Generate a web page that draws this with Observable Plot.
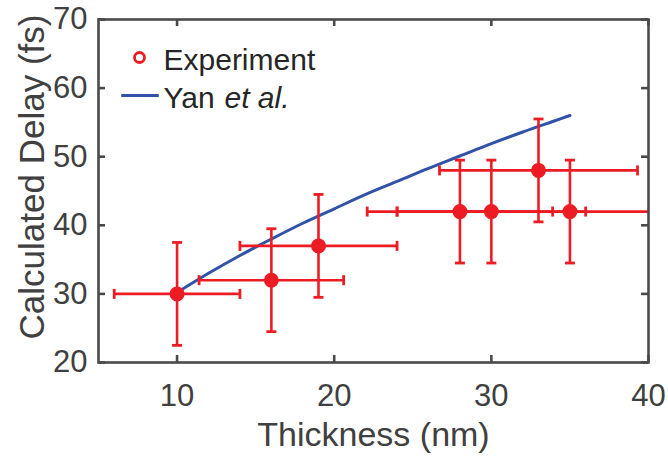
<!DOCTYPE html>
<html>
<head>
<meta charset="utf-8">
<script src="https://cdn.jsdelivr.net/npm/d3@7"></script>
<script src="https://cdn.jsdelivr.net/npm/@observablehq/plot@0.6"></script>
<style>
  html, body { margin: 0; padding: 0; background: #fff; }
  #chart svg { display: block; }
</style>
</head>
<body>
<div id="chart"></div>
<script>
// Measured delay versus film thickness, with error bars in both directions
const thickness    = [10, 16, 19, 28, 30, 33, 35];
const delay        = [30, 32, 37, 42, 42, 48, 42];
const thicknessErr = [4, 4.6, 5, 5.9, 6, 6.3, 11];
const delayErr     = [7.5, 7.5, 7.5, 7.5, 7.5, 7.5, 7.5];

// Model curve (Yan et al.)
const yanThickness = [10, 12, 14, 16, 18, 20, 22, 24, 26, 28, 30, 32, 34, 35];
const yanDelay     = [30.2, 33.0, 35.6, 38.0, 40.3, 42.4, 44.5, 46.4, 48.3, 50.1, 51.9, 53.6, 55.2, 56.0];

// Axis ticks
const xTicks = [10, 20, 30, 40];
const yTicks = [20, 30, 40, 50, 60, 70];

const points = thickness.map((t, i) => ({t, d: delay[i], et: thicknessErr[i], ed: delayErr[i]}));
const yan = yanThickness.map((t, i) => ({t, d: yanDelay[i]}));
const vCaps = points.flatMap(p => [{t: p.t, d: p.d - p.ed}, {t: p.t, d: p.d + p.ed}]);
const hCaps = points.flatMap(p => [{t: p.t - p.et, d: p.d}, {t: p.t + p.et, d: p.d}]);

const red = "#ed1c24";
const blue = "#3152a6";
const axisColor = "#4a4a4a";
const textColor = "#404040";
const W = 668, H = 457, mL = 98, mR = 20, mT = 19, mB = 95;
const plotW = W - mL - mR, plotH = H - mT - mB;
const tickLen = 7;

// short path symbols for error-bar caps and the legend line
const capH = {draw(ctx) { ctx.moveTo(-5, 0); ctx.lineTo(5, 0); }};
const capV = {draw(ctx) { ctx.moveTo(0, -5); ctx.lineTo(0, 5); }};
const legendLine = {draw(ctx) { ctx.moveTo(-18.8, 0); ctx.lineTo(18.8, 0); }};

const chart = Plot.plot({
  width: W, height: H,
  marginLeft: mL, marginRight: mR, marginTop: mT, marginBottom: mB,
  style: {fontFamily: "'Liberation Sans', Arial, Helvetica, sans-serif", background: "#fff"},
  x: {domain: [5, 40]},
  y: {domain: [20, 70]},
  marks: [
    // model curve
    Plot.line(yan, {x: "t", y: "d", stroke: blue, strokeWidth: 3, curve: "catmull-rom"}),
    // error bars
    Plot.link(points, {x1: d => d.t - d.et, x2: d => d.t + d.et, y1: "d", y2: "d", stroke: red, strokeWidth: 2.6, clip: true}),
    Plot.link(points, {x1: "t", x2: "t", y1: d => d.d - d.ed, y2: d => d.d + d.ed, stroke: red, strokeWidth: 2.6}),
    Plot.dot(vCaps, {x: "t", y: "d", symbol: capH, r: 5, fill: "none", stroke: red, strokeWidth: 2.8}),
    Plot.dot(hCaps, {x: "t", y: "d", symbol: capV, r: 5, fill: "none", stroke: red, strokeWidth: 2.8, clip: true}),
    // measured points
    Plot.dot(points, {x: "t", y: "d", r: 6.5, fill: red, stroke: red, strokeWidth: 2}),
    // box and inward ticks
    Plot.frame({stroke: axisColor, strokeWidth: 2.6}),
    Plot.tickX(xTicks, {x: d => d, insetTop: plotH - tickLen, stroke: axisColor, strokeWidth: 2.6}),
    Plot.tickX(xTicks, {x: d => d, insetBottom: plotH - tickLen, stroke: axisColor, strokeWidth: 2.6}),
    Plot.tickY(yTicks, {y: d => d, insetRight: plotW - tickLen, stroke: axisColor, strokeWidth: 2.6}),
    Plot.tickY(yTicks, {y: d => d, insetLeft: plotW - tickLen, stroke: axisColor, strokeWidth: 2.6}),
    // tick labels
    Plot.axisX({ticks: xTicks, tickSize: 0, tickPadding: 21, label: null, fontSize: 31, color: textColor}),
    Plot.axisY({ticks: yTicks, tickSize: 0, tickPadding: 11, label: null, fontSize: 31, color: textColor}),
    // axis titles
    Plot.text(["Thickness (nm)"], {frameAnchor: "bottom", dy: 83, textAnchor: "middle", lineAnchor: "bottom", fontSize: 34, fill: textColor}),
    Plot.text(["Calculated Delay (fs)"], {frameAnchor: "left", dx: -55, dy: -14, rotate: -90, textAnchor: "middle", lineAnchor: "bottom", fontSize: 35, fill: textColor}),
    // legend
    Plot.dot([0], {frameAnchor: "top-left", dx: 41, dy: 38, r: 5, fill: "#fff", stroke: red, strokeWidth: 2.8}),
    Plot.text(["Experiment"], {frameAnchor: "top-left", dx: 65, dy: 50.5, textAnchor: "start", lineAnchor: "bottom", fontSize: 30, fill: "#262626"}),
    Plot.dot([0], {frameAnchor: "top-left", dx: 41.5, dy: 76, symbol: legendLine, r: 5, fill: "none", stroke: blue, strokeWidth: 3}),
    Plot.text(["Yan "], {frameAnchor: "top-left", dx: 65, dy: 88, textAnchor: "start", lineAnchor: "bottom", fontSize: 30, fill: "#262626"}),
    Plot.text(["et al."], {frameAnchor: "top-left", dx: 126, dy: 88, textAnchor: "start", lineAnchor: "bottom", fontSize: 30, fontStyle: "italic", fill: "#262626"})
  ]
});
document.getElementById("chart").append(chart);
</script>
</body>
</html>
